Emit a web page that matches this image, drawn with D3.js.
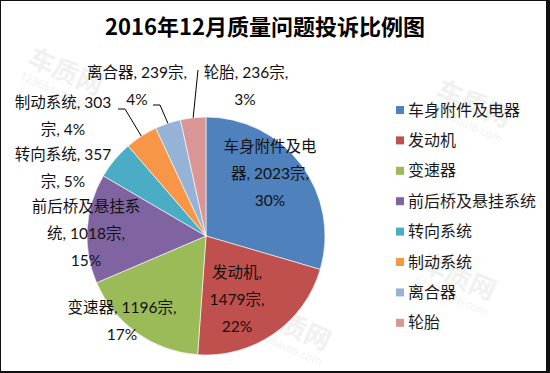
<!DOCTYPE html>
<html>
<head>
<meta charset="utf-8">
<script src="https://cdn.jsdelivr.net/npm/d3@7"></script>
<style>
  body { margin: 0; background: #fff; }
  svg { display: block; font-family: "Lato", "Noto Sans CJK SC", sans-serif; }
</style>
</head>
<body>
<svg id="chart"></svg>
<script>
// data
const categories = ['车身附件及电器', '发动机', '变速器', '前后桥及悬挂系统', '转向系统', '制动系统', '离合器', '轮胎'];
const counts = [2023, 1479, 1196, 1018, 357, 303, 239, 236];
const percents = ['30%', '22%', '17%', '15%', '5%', '4%', '4%', '3%'];
const colors = ['#4F81BD', '#C0504D', '#9BBB59', '#8064A2', '#4BACC6', '#F79646', '#95B3D7', '#D99694'];

// how Excel wrapped each data label
const labelLines = [
  ['车身附件及电', '器, 2023宗,', '30%'],
  ['发动机,', '1479宗,', '22%'],
  ['变速器, 1196宗,', '17%'],
  ['前后桥及悬挂系', '统, 1018宗,', '15%'],
  ['转向系统, 357', '宗, 5%'],
  ['制动系统, 303', '宗, 4%'],
  ['离合器, 239宗,', '4%'],
  ['轮胎, 236宗,', '3%']
];

const W = 550, H = 373;
const cx = 206, cy = 236, R = 119;

const svg = d3.select('#chart').attr('width', W).attr('height', H);

// frame
svg.append('rect').attr('width', W).attr('height', H).attr('fill', '#111');
svg.append('rect').attr('x', 1).attr('y', 1).attr('width', 545).attr('height', 370).attr('fill', '#fff');

// faint watermarks
const marks = [[62, 80], [262, 178], [290, 335], [470, 112], [455, 285]];
const wm = svg.append('g').attr('fill', '#f1f1f1');
marks.forEach(m => {
  const g = wm.append('g').attr('transform', `translate(${m[0]},${m[1]}) rotate(24)`);
  g.append('text').attr('text-anchor', 'middle').attr('font-size', 26).attr('font-weight', 'bold')
    .attr('font-family', 'Noto Sans CJK SC').text('车质网');
  g.append('text').attr('text-anchor', 'middle').attr('y', 16).attr('font-size', 11)
    .attr('font-family', 'Open Sans').text('12365auto.com');
});

// title
svg.append('text')
  .attr('x', 265).attr('y', 35)
  .attr('text-anchor', 'middle')
  .attr('font-size', 22).attr('font-weight', 'bold')
  .attr('font-family', '"Noto Sans CJK SC", sans-serif')
  .attr('fill', '#000')
  .text('2016年12月质量问题投诉比例图');

// pie
const pie = d3.pie().sort(null).value(d => d);
const arcs = pie(counts);
const arc = d3.arc().innerRadius(0).outerRadius(R);
const edge = d3.arc().innerRadius(R).outerRadius(R);

const chart = svg.append('g').attr('transform', `translate(${cx},${cy})`);

chart.selectAll('path')
  .data(arcs)
  .join('path')
  .attr('d', arc)
  .attr('fill', (d, i) => colors[i])
  .attr('stroke', '#fff')
  .attr('stroke-width', 0.6);

// label anchors relative to pie centre (centre of first text line)
const labelPos = [[64, -89], [31, 37], [-84, 72], [-120, -29], [-143, -81], [-143, -133], [-69, -163], [40, -163]];
const lineH = 27;

labelLines.forEach((lines, i) => {
  const t = chart.append('text')
    .attr('text-anchor', 'middle')
    .attr('font-size', 15.5)
    .attr('fill', '#111');
  lines.forEach((s, k) => {
    t.append('tspan')
      .attr('x', labelPos[i][0] + (i === 7 && k === 1 ? -1 : 0))
      .attr('y', labelPos[i][1] + k * lineH)
      .attr('dy', '0.35em')
      .text(s);
  });
});

// leader lines for the small slices
const leaders = [
  {i: 5, elbow: [-81, -127], end: [-88, -127]},
  {i: 6, elbow: [-46, -131], end: [-53, -131]},
  {i: 7, elbow: [-8, -166], end: [-8, -166]}
];
leaders.forEach(l => {
  const p = edge.centroid(arcs[l.i]);
  chart.append('polyline')
    .attr('points', [p, l.elbow, l.end].map(q => q.join(',')).join(' '))
    .attr('fill', 'none')
    .attr('stroke', '#000')
    .attr('stroke-width', 1);
});

// legend
const legend = svg.append('g').attr('transform', 'translate(396,110)');
const item = legend.selectAll('g')
  .data(categories)
  .join('g')
  .attr('transform', (d, i) => `translate(0,${i * 30.4})`);
item.append('rect')
  .attr('x', 0).attr('y', -4).attr('width', 8).attr('height', 8)
  .attr('fill', (d, i) => colors[i]);
item.append('text')
  .attr('x', 12).attr('dy', '0.35em')
  .attr('font-size', 16)
  .attr('fill', '#1a1a1a')
  .text(d => d);
</script>
</body>
</html>
